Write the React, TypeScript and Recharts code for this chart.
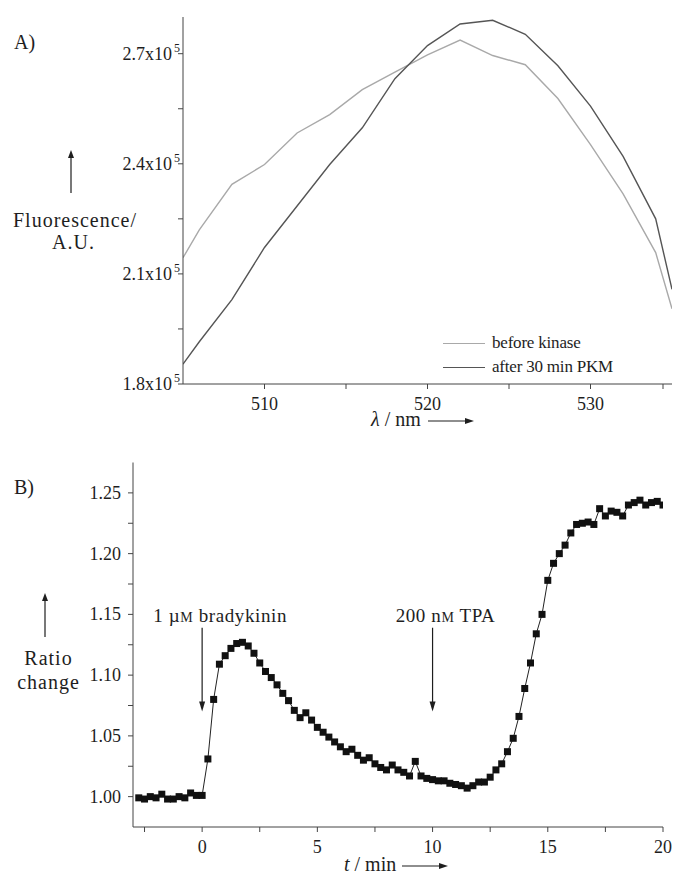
import React from "react";
import { LineChart, Line, XAxis, YAxis, Legend, ReferenceLine } from "recharts";

const FONT = '"Liberation Serif", "Times New Roman", serif';
const INK = "#1e1e1e";
const AXIS = "#444";

// A) emission spectra (A.U.)
const wavelengths = [505, 506, 508, 510, 512, 514, 516, 518, 520, 522, 524, 526, 528, 530, 532, 534, 535];
const beforeKinase = [214400, 222000, 234400, 239800, 248400, 253400, 260200, 265000, 269700, 273700, 269500, 267000, 257800, 245200, 231800, 215800, 200500];
const afterPKM = [185400, 191500, 203000, 217200, 228500, 239800, 249800, 263200, 272200, 278100, 279100, 275300, 266700, 255700, 242000, 225000, 205800];
const seriesNames = ["before kinase", "after 30 min PKM"];
const nmTicks = [510, 515, 520, 525, 530, 535];
const nmLabels = [510, 520, 530];
const fluoTicks = [180000, 195000, 210000, 225000, 240000, 255000, 270000];
const fluoLabels: Record<number, string> = { 180000: "1.8", 210000: "2.1", 240000: "2.4", 270000: "2.7" };

// B) ratio time course, one point every 15 s
const minutes = [
  -2.75, -2.5, -2.25, -2, -1.75, -1.5, -1.25, -1, -0.75, -0.5, -0.25, 0,
  0.25, 0.5, 0.75, 1, 1.25, 1.5, 1.75, 2, 2.25, 2.5, 2.75, 3, 3.25, 3.5, 3.75, 4,
  4.25, 4.5, 4.75, 5, 5.25, 5.5, 5.75, 6, 6.25, 6.5, 6.75, 7, 7.25, 7.5, 7.75, 8,
  8.25, 8.5, 8.75, 9, 9.25, 9.5, 9.75, 10, 10.25, 10.5, 10.75, 11, 11.25, 11.5, 11.75, 12,
  12.25, 12.5, 12.75, 13, 13.25, 13.5, 13.75, 14, 14.25, 14.5, 14.75, 15, 15.25, 15.5, 15.75, 16,
  16.25, 16.5, 16.75, 17, 17.25, 17.5, 17.75, 18, 18.25, 18.5, 18.75, 19, 19.25, 19.5, 19.75, 20,
];
const ratioChange = [
  0.999, 0.998, 1.0, 0.999, 1.002, 0.998, 0.998, 1.0, 0.999, 1.003, 1.001, 1.001,
  1.031, 1.08, 1.109, 1.116, 1.122, 1.126, 1.127, 1.124, 1.118, 1.11, 1.103, 1.098, 1.092, 1.085, 1.079, 1.071,
  1.065, 1.069, 1.063, 1.057, 1.053, 1.049, 1.045, 1.041, 1.037, 1.039, 1.034, 1.03, 1.032, 1.027, 1.024, 1.022,
  1.026, 1.022, 1.02, 1.017, 1.029, 1.017, 1.015, 1.014, 1.013, 1.013, 1.011, 1.01, 1.009, 1.007, 1.009, 1.012,
  1.012, 1.016, 1.022, 1.027, 1.037, 1.048, 1.066, 1.089, 1.11, 1.134, 1.15, 1.178, 1.192, 1.2, 1.207, 1.217,
  1.224, 1.225, 1.226, 1.224, 1.237, 1.231, 1.235, 1.234, 1.231, 1.24, 1.242, 1.244, 1.24, 1.242, 1.243, 1.24,
];
const timeTicks = [-2.5, 0, 2.5, 5, 7.5, 10, 12.5, 15, 17.5, 20];
const timeLabels = [0, 5, 10, 15, 20];
const ratioTicks = [1.0, 1.025, 1.05, 1.075, 1.1, 1.125, 1.15, 1.175, 1.2, 1.225, 1.25];
const ratioLabels = ["1.00", "1.05", "1.10", "1.15", "1.20", "1.25"];

const spectrum = wavelengths.map((nm, i) => ({ nm, before: beforeKinase[i], after: afterPKM[i] }));
const timecourse = minutes.map((t, i) => ({ t, ratio: ratioChange[i] }));

function NmTick({ x, y, payload }: any) {
  const major = nmLabels.includes(payload.value);
  return (
    <g>
      <line x1={x} y1={y} x2={x} y2={y + 5} stroke={AXIS} />
      {major && (
        <text x={x} y={y + 26} textAnchor="middle" fontSize={18} fill={INK} fontFamily={FONT}>
          {payload.value}
        </text>
      )}
    </g>
  );
}

function FluoTick({ x, y, payload }: any) {
  const mant = fluoLabels[payload.value];
  return (
    <g>
      <line x1={x - 5} y1={y} x2={x} y2={y} stroke={AXIS} />
      {mant && (
        <text x={x - 3} y={y + 6} textAnchor="end" fontSize={18} fill={INK} fontFamily={FONT}>
          {mant}x10<tspan dx={2} dy={-8} fontSize={12}>5</tspan>
        </text>
      )}
    </g>
  );
}

function TimeTick({ x, y, payload }: any) {
  const major = timeLabels.includes(payload.value);
  return (
    <g>
      <line x1={x} y1={y} x2={x} y2={y + 5} stroke={AXIS} />
      {major && (
        <text x={x} y={y + 26} textAnchor="middle" fontSize={18} fill={INK} fontFamily={FONT}>
          {payload.value}
        </text>
      )}
    </g>
  );
}

function RatioTick({ x, y, payload }: any) {
  const label = payload.value.toFixed(2);
  const major = ratioLabels.includes(label) && Math.abs(payload.value * 20 - Math.round(payload.value * 20)) < 1e-6;
  return (
    <g>
      <line x1={x - 5} y1={y} x2={x} y2={y} stroke={AXIS} />
      {major && (
        <text x={x - 12} y={y + 6} textAnchor="end" fontSize={18} fill={INK} fontFamily={FONT}>
          {label}
        </text>
      )}
    </g>
  );
}

const Square = (p: any) => (
  <rect key={p.index} x={p.cx - 3.5} y={p.cy - 3.5} width={7} height={7} fill="#111" />
);

const dropArrow = (label: React.ReactNode, dx: number) => (p: any) => {
  const top = Math.min(p.y1, p.y2);
  const bot = Math.max(p.y1, p.y2);
  return (
    <g>
      <line x1={p.x1} y1={top} x2={p.x1} y2={bot - 6} stroke={INK} strokeWidth={1.2} />
      <path d={`M${p.x1 - 3},${bot - 10} L${p.x1 + 3},${bot - 10} L${p.x1},${bot} Z`} fill={INK} />
      <text x={p.x1 + dx} y={top - 6} textAnchor="middle" fontSize={19} letterSpacing={0.6} fill={INK} fontFamily={FONT}>
        {label}
      </text>
    </g>
  );
};

function SpectrumLegend({ payload }: any) {
  const items = [...(payload || [])].sort((a: any, b: any) => seriesNames.indexOf(a.value) - seriesNames.indexOf(b.value));
  return (
    <div style={{ fontFamily: FONT, fontSize: 17 }}>
      {items.map((e: any) => (
        <div key={e.value} style={{ display: "flex", alignItems: "center", height: 24 }}>
          <div style={{ width: 42, borderTop: `1.3px solid ${e.color}`, marginRight: 7 }} />
          <span style={{ color: INK, letterSpacing: -0.2 }}>{e.value}</span>
        </div>
      ))}
    </div>
  );
}

function UpArrow({ x, top, bottom }: { x: number; top: number; bottom: number }) {
  return (
    <svg style={{ position: "absolute", left: x - 4, top }} width={8} height={bottom - top}>
      <line x1={4} y1={6} x2={4} y2={bottom - top} stroke={INK} strokeWidth={1.2} />
      <path d="M1,8 L7,8 L4,0 Z" fill={INK} />
    </svg>
  );
}

function RightArrow({ left, y, width }: { left: number; y: number; width: number }) {
  return (
    <svg style={{ position: "absolute", left, top: y - 4 }} width={width} height={8}>
      <line x1={0} y1={4} x2={width - 6} y2={4} stroke={INK} strokeWidth={1.2} />
      <path d={`M${width - 9},1 L${width - 9},7 L${width},4 Z`} fill={INK} />
    </svg>
  );
}

const txt = (left: number, cy: number, size: number, extra: React.CSSProperties = {}) =>
  ({ position: "absolute", left, top: cy - size / 2, fontSize: size, lineHeight: `${size}px`, whiteSpace: "nowrap", ...extra } as React.CSSProperties);

export default function App() {
  return (
    <div style={{ position: "absolute", left: 0, top: 0, width: 675, height: 875, background: "#fff", fontFamily: FONT, color: INK, overflow: "hidden" }}>
      <div style={{ position: "absolute", left: 0, top: 0 }}>
        <LineChart width={675} height={430} data={spectrum} margin={{ top: 17, right: 3, bottom: 16, left: 123 }}>
          <XAxis dataKey="nm" type="number" domain={[505, 535]} ticks={nmTicks} height={30} tickSize={0} tickMargin={0} tickLine={false} tick={NmTick} stroke={AXIS} allowDataOverflow />
          <YAxis type="number" domain={[180000, 280000]} ticks={fluoTicks} width={60} tickSize={0} tickMargin={0} tickLine={false} tick={FluoTick} stroke={AXIS} allowDataOverflow />
          <Line dataKey="before" name={seriesNames[0]} stroke="#a9a9a9" strokeWidth={1.4} dot={false} isAnimationActive={false} />
          <Line dataKey="after" name={seriesNames[1]} stroke="#555" strokeWidth={1.4} dot={false} isAnimationActive={false} />
          <Legend layout="vertical" align="center" verticalAlign="middle" wrapperStyle={{ left: 443, top: 331, width: 232 }} content={SpectrumLegend} />
        </LineChart>
      </div>

      <div style={{ position: "absolute", left: 0, top: 430 }}>
        <LineChart width={675} height={445} data={timecourse} margin={{ top: 32.5, right: 12, bottom: 18, left: 73 }}>
          <XAxis dataKey="t" type="number" domain={[-3, 20]} ticks={timeTicks} height={30} tickSize={0} tickMargin={0} tickLine={false} tick={TimeTick} stroke={AXIS} allowDataOverflow />
          <YAxis type="number" domain={[0.975, 1.275]} ticks={ratioTicks} width={60} tickSize={0} tickMargin={0} tickLine={false} tick={RatioTick} stroke={AXIS} allowDataOverflow />
          <ReferenceLine segment={[{ x: 0, y: 1.139 }, { x: 0, y: 1.07 }]} shape={dropArrow(<>1 µ<tspan fontSize={14}>M</tspan> bradykinin</>, 18)} />
          <ReferenceLine segment={[{ x: 10, y: 1.139 }, { x: 10, y: 1.07 }]} shape={dropArrow(<>200 n<tspan fontSize={14}>M</tspan> TPA</>, 13)} />
          <Line dataKey="ratio" stroke="#222" strokeWidth={1} dot={Square} isAnimationActive={false} />
        </LineChart>
      </div>

      <div style={txt(14, 42, 20)}>A)</div>
      <UpArrow x={71} top={150} bottom={193} />
      <div style={txt(0, 220, 20, { width: 150, textAlign: "center", letterSpacing: 1 })}>Fluorescence/</div>
      <div style={txt(0, 242, 20, { width: 147, textAlign: "center", letterSpacing: 1 })}>A.U.</div>
      <div style={txt(371, 419, 20)}>
        <i>λ</i> / nm
      </div>
      <RightArrow left={428} y={421} width={46} />

      <div style={txt(14, 487, 20)}>B)</div>
      <UpArrow x={45} top={593} bottom={637} />
      <div style={txt(0, 658, 20, { width: 97, textAlign: "center", letterSpacing: 1 })}>Ratio</div>
      <div style={txt(0, 682, 20, { width: 97, textAlign: "center", letterSpacing: 1 })}>change</div>
      <div style={txt(344, 864, 20)}>
        <i>t</i> / min
      </div>
      <RightArrow left={402} y={866} width={46} />
    </div>
  );
}
